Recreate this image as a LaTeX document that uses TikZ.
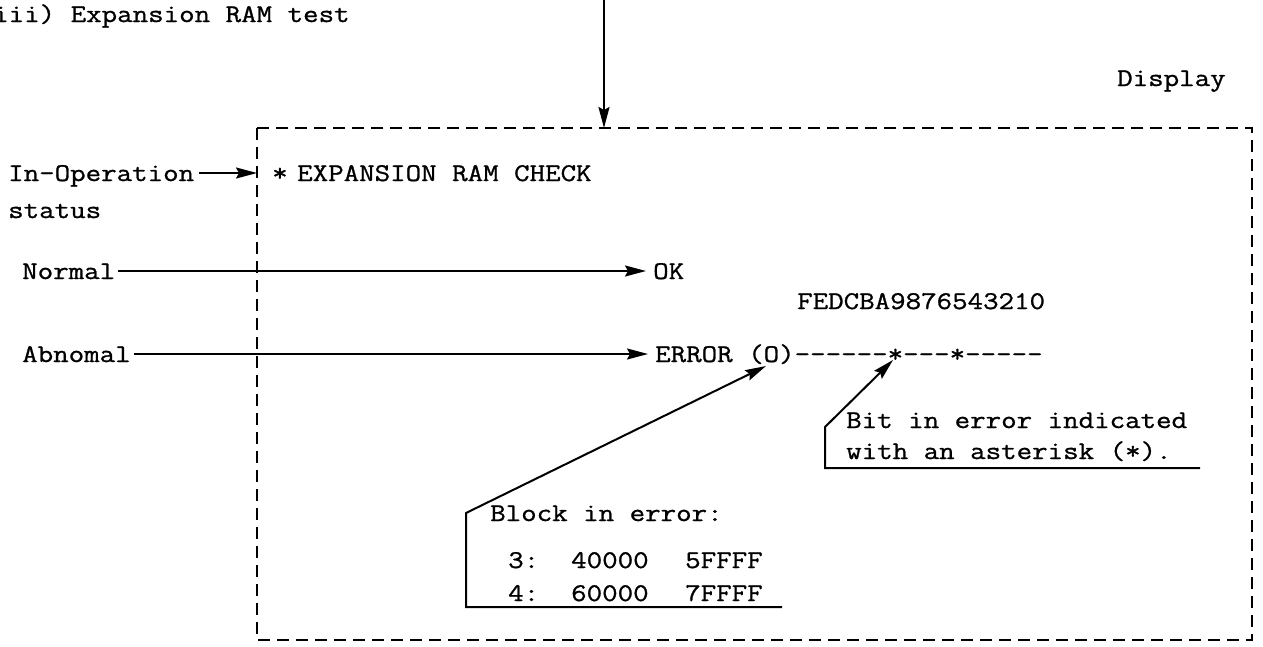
\documentclass[tikz,border=0pt]{standalone}
\usepackage{fontspec}
\setmonofont{Latin Modern Mono}[FakeBold=1, FakeStretch=1.18]
\usetikzlibrary{arrows.meta}
\begin{document}
\begin{tikzpicture}[x=1pt,y=-1pt,
  lbl/.style={inner sep=0pt, anchor=base west, font=\ttfamily\fontsize{25.5}{25.5}\selectfont},
  conn/.style={line width=2pt},
  tip/.style={-{Stealth[length=21pt,width=11pt,inset=3pt]}},
  frame/.style={line width=2.4pt, dash pattern=on 12pt off 7pt}]
\useasboundingbox (0,0) rectangle (1263,646);

% heading and screen label
\node[lbl] (title) at (-7,22) {iii) Expansion RAM test};
\node[lbl] (display) at (1117,86) {Display};

% screen outline
\coordinate (scrTL) at (257,128);
\coordinate (scrBR) at (1252,640);
\draw[frame] (scrTL) rectangle (scrBR);

% entry arrow into the screen
\coordinate (entryTop) at (604,0);
\coordinate (entryTip) at (604,128);
\draw[conn,tip] (entryTop) -- (entryTip);

% in-operation status
\node[lbl] (inop) at (8,181) {In-Operation};
\node[lbl] (status) at (8,218) {status};
\node[lbl] (star) at (272,181) {*};
\node[lbl] (check) at (297,181) {EXPANSION RAM CHECK};
\coordinate (inopTip) at (257,173);
\draw[conn,tip] ([xshift=5pt]inop.east |- inopTip) -- (inopTip);

% normal result
\node[lbl] (normal) at (22,279) {Normal};
\node[lbl] (ok) at (653,279) {OK};
\coordinate (okTip) at (646,271);
\draw[conn,tip] ([xshift=3pt]normal.east |- okTip) -- (okTip);

% abnormal result
\node[lbl] (bits) at (797,309) {FEDCBA9876543210};
\node[lbl] (abn) at (22,362) {Abnomal};
\node[lbl] (err) at (655,362) {ERROR (O)------*---*-----};
\coordinate (errTip) at (648,354);
\draw[conn,tip] ([xshift=3pt]abn.east |- errTip) -- (errTip);

% bit callout
\node[lbl] (bitA) at (846,428) {Bit in error indicated};
\node[lbl] (bitB) at (846,459) {with an asterisk (*).};
\coordinate (bitEnd) at (1200,468);
\coordinate (bitFoot) at (825,468);
\coordinate (bitKnee) at (825,427);
\coordinate (bitTip) at (893,360);
\draw[conn,tip] (bitEnd) -- (bitFoot) -- (bitKnee) -- (bitTip);

% block callout
\node[lbl] (blk) at (490,521) {Block in error:};
\node[lbl] (n3) at (508,568) {3:};
\node[lbl] (a3) at (571,568) {40000};
\node[lbl] (b3) at (685,568) {5FFFF};
\node[lbl] (n4) at (508,601) {4:};
\node[lbl] (a4) at (571,601) {60000};
\node[lbl] (b4) at (685,601) {7FFFF};
\coordinate (blkEnd) at (782,607);
\coordinate (blkFoot) at (466,607);
\coordinate (blkKnee) at (466,513);
\coordinate (blkTip) at (766,366);
\draw[conn,tip] (blkEnd) -- (blkFoot) -- (blkKnee) -- (blkTip);
\end{tikzpicture}
\end{document}
